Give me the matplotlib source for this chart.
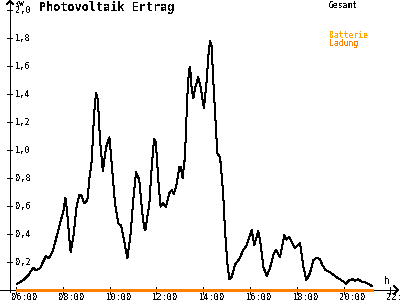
import matplotlib
matplotlib.use("Agg")
import matplotlib.pyplot as plt

# ---- data ----
times = [6.03, 6.31, 6.53, 6.74, 6.85, 7.03, 7.28, 7.42, 7.59, 7.88,
         8.02, 8.11, 8.19, 8.31, 8.34, 8.45, 8.59, 8.71, 8.78, 8.91,
         9.05, 9.13, 9.24, 9.33, 9.42, 9.50, 9.59, 9.71, 9.85, 9.99,
         10.09, 10.23, 10.37, 10.49, 10.59, 10.76, 10.90, 11.01, 11.13, 11.27,
         11.37, 11.47, 11.53, 11.70, 11.80, 11.90, 11.98, 12.08, 12.18, 12.27,
         12.41, 12.55, 12.65, 12.75, 12.87, 12.98, 13.04, 13.12, 13.22, 13.32,
         13.39, 13.44, 13.51, 13.58, 13.65, 13.79, 13.89, 13.97, 14.03, 14.15,
         14.22, 14.29, 14.36, 14.43, 14.55, 14.60, 14.69, 14.75, 14.86, 14.93,
         15.03, 15.12, 15.22, 15.36, 15.57, 15.71, 15.86, 16.07, 16.18, 16.35,
         16.43, 16.57, 16.71, 16.85, 17.00, 17.11, 17.28, 17.40, 17.47, 17.57,
         17.67, 17.78, 17.92, 17.99, 18.14, 18.28, 18.41, 18.56, 18.71, 18.85,
         18.99, 19.09, 19.23, 19.44, 19.71, 19.85, 19.99, 20.10, 20.24, 20.39,
         20.49, 20.63, 20.77, 20.96, 21.13, 21.20]
gesamt = [0.043, 0.07, 0.107, 0.16, 0.14, 0.157, 0.243, 0.226, 0.286, 0.476,
          0.56, 0.66, 0.55, 0.31, 0.27, 0.38, 0.595, 0.68, 0.68, 0.62,
          0.64, 0.786, 0.93, 1.24, 1.41, 1.36, 1.07, 0.85, 1.02, 1.09,
          0.905, 0.62, 0.476, 0.46, 0.38, 0.226, 0.405, 0.643, 0.84, 0.786,
          0.595, 0.45, 0.43, 0.62, 0.88, 1.08, 1.05, 0.786, 0.595, 0.62,
          0.595, 0.69, 0.714, 0.686, 0.76, 0.876, 0.876, 0.80, 0.95, 1.38,
          1.57, 1.59, 1.43, 1.37, 1.44, 1.52, 1.45, 1.36, 1.30, 1.5,
          1.67, 1.78, 1.74, 1.5, 1.14, 0.976, 0.957, 0.905, 0.667, 0.43,
          0.19, 0.076, 0.095, 0.18, 0.23, 0.286, 0.32, 0.43, 0.32, 0.42,
          0.357, 0.167, 0.10, 0.155, 0.25, 0.286, 0.233, 0.333, 0.393, 0.36,
          0.38, 0.345, 0.30, 0.31, 0.333, 0.167, 0.071, 0.12, 0.214, 0.23,
          0.219, 0.179, 0.143, 0.124, 0.09, 0.076, 0.06, 0.043, 0.071, 0.076,
          0.067, 0.076, 0.06, 0.052, 0.036, 0.03]
batterie_ladung = [0.0] * len(times)

y_ticks = [0.2, 0.4, 0.6, 0.8, 1.0, 1.2, 1.4, 1.6, 1.8, 2.0]
y_tick_labels = ["0,2", "0,4", "0,6", "0,8", "1,0", "1,2", "1,4", "1,6", "1,8", "2,0"]
x_ticks = [6, 8, 10, 12, 14, 16, 18, 20, 22]
x_tick_labels = ["06:00", "08:00", "10:00", "12:00", "14:00", "16:00", "18:00", "20:00", "22:00"]

title = "Photovoltaik Ertrag"
unit_y = "KW"
unit_x = "h"

# ---- styling ----
plt.rcParams['font.family'] = ['DejaVu Sans Mono', 'DejaVu Sans']
plt.rcParams['text.antialiased'] = False
W, H = 400, 300
fig = plt.figure(figsize=(W / 100, H / 100), dpi=100)
ax = fig.add_axes([0, 0, 1, 1])

PX_PER_H = 23.4
X0_PX = 16.0   # 06:00
PX_PER_KW = 140.0
Y0_PX = 290.0  # 0 kW (from top)
def tx(px):
    return 6 + (px - X0_PX) / PX_PER_H
def vy(py):
    return (Y0_PX - py) / PX_PER_KW

ax.set_xlim(tx(0), tx(W))
ax.set_ylim(vy(H), vy(0))
ax.axis('off')

LW = 0.72
# axes lines
ax.plot([tx(0), tx(398)], [0, 0], color='black', lw=LW, antialiased=False, zorder=2)
ax.plot([tx(10), tx(10)], [vy(292), vy(1)], color='black', lw=LW, antialiased=False, zorder=2)
ax.plot([tx(394), tx(398), tx(394)], [vy(286), vy(290), vy(294)], color='black', lw=LW, antialiased=False)
ax.plot([tx(7), tx(10), tx(13)], [vy(4), vy(1), vy(4)], color='black', lw=LW, antialiased=False)

# y ticks
for v, lab in zip(y_ticks, y_tick_labels):
    ax.plot([tx(7.5), tx(12.5)], [v, v], color='black', lw=LW, antialiased=False)
    ax.text(tx(15), v, lab, fontsize=6.2, va='center', ha='left', color='black')
fig.text(15 / W, 1 - 0.5 / H, unit_y, fontsize=5.2, va='top', ha='left')

# x ticks
for t, lab in zip(x_ticks, x_tick_labels):
    ax.plot([t, t], [vy(287), vy(294)], color='black', lw=LW, antialiased=False)
    ax.text(t - 4 / PX_PER_H, vy(292.5), lab, fontsize=6.2, va='top', ha='left', color='black')
ax.text(tx(387), vy(281), unit_x, fontsize=7, va='center', ha='center')

# series
ax.plot(times, batterie_ladung, color='#ff8000', lw=1.0, antialiased=False, zorder=3)
ax.plot(times, gesamt, color='black', lw=LW, antialiased=False, zorder=4)

# title and legend
fig.text(39 / W, 1 - 1 / H, title, fontsize=8.5, fontweight='bold', va='top', ha='left')
fig.text(329 / W, 1 - 0.5 / H, "Gesamt", fontsize=5.8, va='top', ha='left', color='black')
fig.text(329 / W, 1 - 31.5 / H, "Batterie", fontsize=5.8, va='top', ha='left', color='#ffa500')
fig.text(329 / W, 1 - 39.5 / H, "Ladung", fontsize=5.8, va='top', ha='left', color='#ff8000')

fig.savefig("out.png", dpi=100)
